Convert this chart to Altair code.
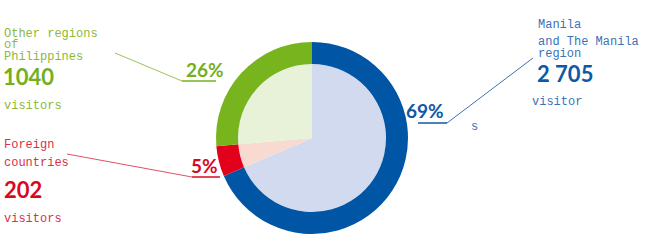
import altair as alt
import pandas as pd

# ---- data ----
regions = ["Manila and The Manila region", "Foreign countries", "Other regions of Philippines"]
visitors = [2705, 202, 1040]
ring_colors = ["#0056a5", "#e2001a", "#78b41e"]
fill_colors = ["#d1daef", "#f9dad1", "#e8f2d8"]
number_labels = ["2 705", "202", "1040"]

total = sum(visitors)
pct_labels = [f"{round(v / total * 100)}%" for v in visitors]

df = pd.DataFrame({
    "region": regions,
    "visitors": visitors,
    "idx": list(range(len(regions))),
    "ring": ring_colors,
    "fill": fill_colors,
})

W, H = 651, 243
CX, CY = 312, 138

base = alt.Chart(df).encode(
    theta=alt.Theta("visitors:Q", stack=True),
    order=alt.Order("idx:O"),
)
ring = base.mark_arc(outerRadius=96, innerRadius=74, stroke=None).encode(
    color=alt.Color("ring:N", scale=None),
    x=alt.value(CX), y=alt.value(CY),
)
inner = base.mark_arc(outerRadius=74, stroke=None).encode(
    color=alt.Color("fill:N", scale=None),
    x=alt.value(CX), y=alt.value(CY),
)

MONO = "Liberation Mono"
SANS = "Lato"


def txt(s, x, y, color, size=12, font=MONO, bold=False):
    return alt.Chart(df.head(1)).mark_text(
        align="left", baseline="alphabetic", font=font, fontSize=size,
        fontWeight="bold" if bold else "normal", color=color,
    ).encode(x=alt.value(x), y=alt.value(y), text=alt.value(s))


def rule(x1, y1, x2, y2, color, w=1):
    return alt.Chart(df.head(1)).mark_rule(color=color, strokeWidth=w).encode(
        x=alt.value(x1), y=alt.value(y1), x2=alt.value(x2), y2=alt.value(y2)
    )


g_lab, g_num = "#8cb83c", "#74b01c"
r_lab, r_num = "#d9304a", "#d8091f"
b_lab, b_num = "#3c72b6", "#0d59a6"

layers = [
    inner, ring,
    # green (other regions)
    txt("Other regions", 4, 37, g_lab),
    txt("of", 4, 48, g_lab),
    txt("Philippines", 4, 60, g_lab),
    txt(number_labels[2], 3, 85, g_num, 22, SANS, True),
    txt("visitors", 4, 109, g_lab),
    txt(pct_labels[2], 186, 77, g_num, 19, SANS, True),
    rule(115, 53, 182, 81, "#9cc25a"),
    rule(182, 81, 216, 81, g_num, 1.5),
    # red (foreign)
    txt("Foreign", 4, 148, r_lab),
    txt("countries", 4, 166, r_lab),
    txt(number_labels[1], 4, 198, r_num, 22, SANS, True),
    txt("visitors", 4, 222, r_lab),
    txt(pct_labels[1], 191, 173, r_num, 19, SANS, True),
    rule(67, 154, 192, 177, "#e05068"),
    rule(192, 177, 220, 177, r_num, 1.5),
    # blue (Manila)
    txt("Manila", 538, 28, b_lab),
    txt("and The Manila", 538, 45, b_lab),
    txt("region", 538, 57, b_lab),
    txt(number_labels[0], 537, 82, b_num, 22, SANS, True),
    txt("visitor", 532, 105, b_lab),
    txt("s", 471, 130, b_lab),
    txt(pct_labels[0], 406, 118, b_num, 19, SANS, True),
    rule(418, 123, 447, 123, b_num, 1.5),
    rule(447, 123, 533, 58, "#3c72b6"),
]

chart = alt.layer(*layers).properties(
    width=W, height=H, padding=0,
    autosize=alt.AutoSizeParams(type="none"),
).configure_view(stroke=None)

chart.save("out.html", embed_options={"renderer": "svg", "actions": False})
